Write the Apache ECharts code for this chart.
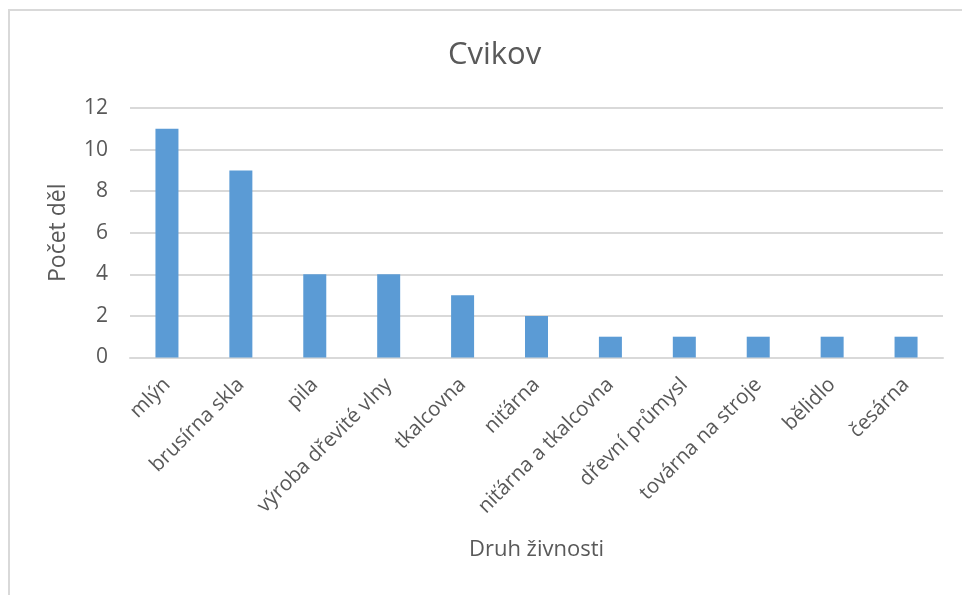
<!DOCTYPE html>
<html>
<head>
<meta charset="utf-8">
<script src="https://cdn.jsdelivr.net/npm/echarts@6/dist/echarts.min.js"></script>
<style>
html,body{margin:0;padding:0;background:#fff;}
#chart{width:962px;height:595px;}
</style>
</head>
<body>
<div id="chart"></div>
<script>
const titleText = "Cvikov";
const categories = ["mlýn","brusírna skla","pila","výroba dřevité vlny","tkalcovna","niťárna","niťárna a tkalcovna","dřevní průmysl","továrna na stroje","bělidlo","česárna"];
const values = [11, 9, 4, 4, 3, 2, 1, 1, 1, 1, 1];
const yTicks = [0, 2, 4, 6, 8, 10, 12];
const xName = "Druh živnosti";
const yName = "Počet děl";

const font = "'Open Sans', sans-serif";
const chart = echarts.init(document.getElementById('chart'));
chart.setOption({
  animation: false,
  backgroundColor: '#fff',
  title: {
    text: titleText,
    left: 443,
    top: 35,
    textStyle: { fontFamily: font, fontSize: 31, fontWeight: 'normal', color: '#595959' }
  },
  graphic: [{
    type: 'rect',
    shape: { x: 9, y: 10, width: 1200, height: 1200 },
    style: { fill: 'none', stroke: '#D9D9D9', lineWidth: 2 },
    silent: true
  }],
  grid: { left: 130, right: 19, top: 108, bottom: 237.5 },
  xAxis: {
    type: 'category',
    data: categories,
    name: xName,
    nameLocation: 'middle',
    nameGap: 181,
    nameTextStyle: { fontFamily: font, fontSize: 22, color: '#595959' },
    axisLine: { lineStyle: { color: '#D9D9D9', width: 2 } },
    axisTick: { show: false },
    axisLabel: { rotate: 45, interval: 0, margin: 24, fontFamily: font, fontSize: 20.5, color: '#595959' }
  },
  yAxis: {
    type: 'value',
    min: yTicks[0],
    max: yTicks[yTicks.length - 1],
    interval: yTicks[1] - yTicks[0],
    name: yName,
    nameLocation: 'middle',
    nameGap: 60,
    nameTextStyle: { fontFamily: font, fontSize: 23, color: '#595959' },
    axisLine: { show: false },
    axisTick: { show: false },
    axisLabel: { margin: 22, fontFamily: font, fontSize: 21, color: '#595959' },
    splitLine: { lineStyle: { color: '#D9D9D9', width: 2 } }
  },
  series: [{
    type: 'bar',
    data: values,
    barWidth: 23,
    itemStyle: { color: '#5B9BD5' }
  }]
});
</script>
</body>
</html>
